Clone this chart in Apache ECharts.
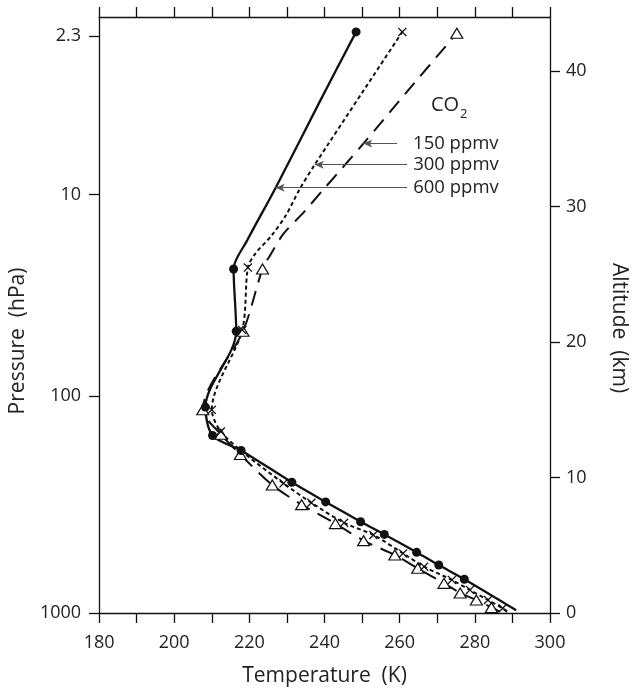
<!DOCTYPE html>
<html>
<head>
<meta charset="utf-8">
<script src="https://cdn.jsdelivr.net/npm/echarts@6/dist/echarts.min.js"></script>
<style>
  html, body { margin: 0; padding: 0; background: #fff; }
  #chart { width: 637px; height: 696px; }
</style>
</head>
<body>
<div id="chart"></div>
<script>
// Temperature axis (K)
const tempMin = 180;
const tempMax = 300;
const tempLabels = [180, 200, 220, 240, 260, 280, 300];

// Altitude axis (km) and pressure labels placed at their altitudes
const altMin = 0;
const altMax = 44;
const altitudeTicks = [0, 10, 20, 30, 40];
const pressureLabels = ['2.3', '10', '100', '1000'];
const pressureAltitudes = [42.6, 30.9, 16.0, 0];

// 600 ppmv profile: curve [T (K), altitude (km)] and marked levels
const co2_600_curve = [
  [291.0, 0.2], [277.2, 2.49], [270.4, 3.54], [264.5, 4.48], [255.9, 5.8],
  [249.6, 6.74], [240.3, 8.2], [231.3, 9.65], [217.8, 12.0], [210.2, 13.1],
  [208.3, 15.2], [216.5, 20.8], [215.8, 25.4], [219.4, 27.5], [227.0, 31.4],
  [239.0, 37.9], [248.4, 42.9]
];
const co2_600_marks = [
  [277.2, 2.49], [270.4, 3.54], [264.5, 4.48], [255.9, 5.8], [249.6, 6.74],
  [240.3, 8.2], [231.3, 9.65], [217.8, 12.0], [210.2, 13.1], [208.3, 15.2],
  [216.5, 20.8], [215.8, 25.4], [248.4, 42.9]
];

// 300 ppmv profile
const co2_300_curve = [
  [288.6, 0.12], [287.4, 0.35], [283.5, 0.96], [278.7, 1.7], [273.9, 2.44],
  [266.5, 3.42], [260.9, 4.4], [253.0, 5.76], [245.2, 6.66], [236.5, 8.14],
  [229.1, 9.57], [218.6, 11.8], [212.4, 13.4], [210.0, 15.0], [218.1, 20.9],
  [219.6, 25.5], [221.5, 26.5], [226.0, 27.9], [229.8, 29.4], [233.4, 31.3],
  [237.4, 33.1], [260.7, 42.9]
];
const co2_300_marks = [
  [287.4, 0.35], [283.5, 0.96], [278.7, 1.7], [273.9, 2.44], [266.5, 3.42],
  [260.9, 4.4], [253.0, 5.76], [245.2, 6.66], [236.5, 8.14], [229.1, 9.57],
  [212.4, 13.4], [210.0, 15.0], [218.1, 20.9], [219.6, 25.5], [260.7, 42.9]
];

// 150 ppmv profile
const co2_150_curve = [
  [286.6, 0.1], [284.4, 0.41], [280.4, 0.96], [276.1, 1.48], [271.8, 2.19],
  [264.8, 3.3], [258.7, 4.28], [250.4, 5.34], [242.9, 6.6], [233.9, 8.0],
  [226.1, 9.45], [217.6, 11.7], [212.4, 13.2], [207.6, 15.0], [218.3, 20.8],
  [223.5, 25.4], [225.5, 26.4], [229.1, 28.0], [234.5, 29.6], [239.5, 31.2],
  [250.5, 34.7], [262.3, 38.6], [275.2, 42.8]
];
const co2_150_marks = [
  [284.4, 0.41], [280.4, 0.96], [276.1, 1.48], [271.8, 2.19], [264.8, 3.3],
  [258.7, 4.28], [250.4, 5.34], [242.9, 6.6], [233.9, 8.0], [226.1, 9.45],
  [217.6, 11.7], [212.4, 13.2], [207.6, 15.0], [218.3, 20.8], [223.5, 25.4],
  [275.2, 42.8]
];

// Labelled arrows pointing at each profile
const arrowNames = ['150 ppmv', '300 ppmv', '600 ppmv'];
const arrowTipTemps = [250.3, 237.4, 227.0];
const arrowTailTemps = [259.3, 262.0, 262.0];
const arrowAltitudes = [34.66, 33.1, 31.4];
const arrowLabelGaps = [16, 6, 6];

const ink = '#111';
const textInk = '#222';
const FONT = '"Open Sans", "Noto Sans", sans-serif';

const xShape = 'path://M1,0 L5,4 L9,0 L10,1 L6,5 L10,9 L9,10 L5,6 L1,10 L0,9 L4,5 L0,1 Z';

const axisLineStyle = { color: ink, width: 1.3 };

const chart = echarts.init(document.getElementById('chart'));

function curveSeries(name, data, width, dash) {
  return {
    name: name,
    type: 'line',
    yAxisIndex: 1,
    data: data,
    smooth: 0.3,
    showSymbol: false,
    symbol: 'none',
    z: 2,
    silent: true,
    lineStyle: { color: ink, width: width, type: dash || 'solid', cap: 'butt' }
  };
}

function markSeries(name, data, symbol, size, style, z) {
  return {
    name: name, type: 'scatter', yAxisIndex: 1, data: data, z: z, silent: true,
    symbol: symbol, symbolSize: size,
    itemStyle: Object.assign({ opacity: 1 }, style)
  };
}

const markLineData = arrowNames.map((n, i) => [
  { name: n, coord: [arrowTipTemps[i], arrowAltitudes[i]], label: { distance: arrowLabelGaps[i] } },
  { coord: [arrowTailTemps[i], arrowAltitudes[i]] }
]);

const dashedCurve = curveSeries('150 ppmv', co2_150_curve, 2, [15, 9]);
dashedCurve.markLine = {
  silent: true,
  symbol: ['arrow', 'none'],
  symbolSize: [6, 9],
  precision: 3,
  lineStyle: { color: '#555', width: 1, type: 'solid' },
  label: {
    show: true, position: 'end', formatter: p => p.name,
    fontSize: 18.5, color: textInk, fontFamily: FONT
  },
  emphasis: { disabled: true },
  data: markLineData
};

const option = {
  animation: false,
  backgroundColor: '#fff',
  textStyle: { fontFamily: FONT },
  grid: { left: 95, right: 82, top: 17, bottom: 83 },
  xAxis: [
    {
      type: 'value', position: 'bottom', min: tempMin, max: tempMax, interval: 10,
      axisLine: { show: true, onZero: false, lineStyle: axisLineStyle },
      axisTick: { show: true, inside: false, length: 10, lineStyle: axisLineStyle },
      axisLabel: {
        customValues: tempLabels, margin: 21, fontSize: 18, color: textInk, fontFamily: FONT
      },
      splitLine: { show: false },
      name: 'Temperature  (K)', nameLocation: 'middle', nameGap: 53,
      nameTextStyle: { fontSize: 21, color: textInk, fontFamily: FONT }
    },
    {
      type: 'value', position: 'top', min: tempMin, max: tempMax, interval: 10,
      axisLine: { show: true, onZero: false, lineStyle: axisLineStyle },
      axisTick: { show: true, inside: false, length: 10, lineStyle: axisLineStyle },
      axisLabel: { show: false },
      splitLine: { show: false }
    }
  ],
  yAxis: [
    {
      type: 'value', position: 'left', min: altMin, max: altMax,
      axisLine: { show: true, onZero: false, lineStyle: axisLineStyle },
      axisTick: { show: true, inside: false, length: 10, customValues: pressureAltitudes, lineStyle: axisLineStyle },
      axisLabel: {
        customValues: pressureAltitudes,
        formatter: v => pressureLabels[pressureAltitudes.indexOf(v)],
        margin: 18, fontSize: 18, color: textInk, fontFamily: FONT
      },
      splitLine: { show: false },
      name: 'Pressure  (hPa)', nameLocation: 'middle', nameGap: 64, nameRotate: 90,
      nameTextStyle: { fontSize: 21, color: textInk, fontFamily: FONT, padding: [0, 52, 0, 0] }
    },
    {
      type: 'value', position: 'right', min: altMin, max: altMax,
      axisLine: { show: true, onZero: false, lineStyle: axisLineStyle },
      axisTick: { show: true, inside: false, length: 10, customValues: altitudeTicks, lineStyle: axisLineStyle },
      axisLabel: {
        customValues: altitudeTicks, margin: 16, fontSize: 18, color: textInk, fontFamily: FONT
      },
      splitLine: { show: false },
      name: 'Altitude  (km)', nameLocation: 'middle', nameGap: 58, nameRotate: -90,
      nameTextStyle: { fontSize: 21, color: textInk, fontFamily: FONT, padding: [0, 0, 0, 26] }
    }
  ],
  series: [
    curveSeries('600 ppmv', co2_600_curve, 2.3),
    curveSeries('300 ppmv', co2_300_curve, 2, [4, 3]),
    dashedCurve,
    markSeries('600 marks', co2_600_marks, 'circle', 9, { color: ink }, 4),
    markSeries('300 marks', co2_300_marks, xShape, 9, { color: ink }, 4),
    markSeries('150 marks', co2_150_marks, 'triangle', [12, 10],
      { color: '#fff', borderColor: ink, borderWidth: 1.2 }, 3)
  ],
  graphic: [
    {
      type: 'text', left: 431, top: 95, silent: true,
      style: { text: 'CO', font: '20px ' + FONT, fill: textInk }
    },
    {
      type: 'text', left: 460, top: 108, silent: true,
      style: { text: '2', font: '13px ' + FONT, fill: textInk }
    }
  ]
};

chart.setOption(option);
</script>
</body>
</html>
